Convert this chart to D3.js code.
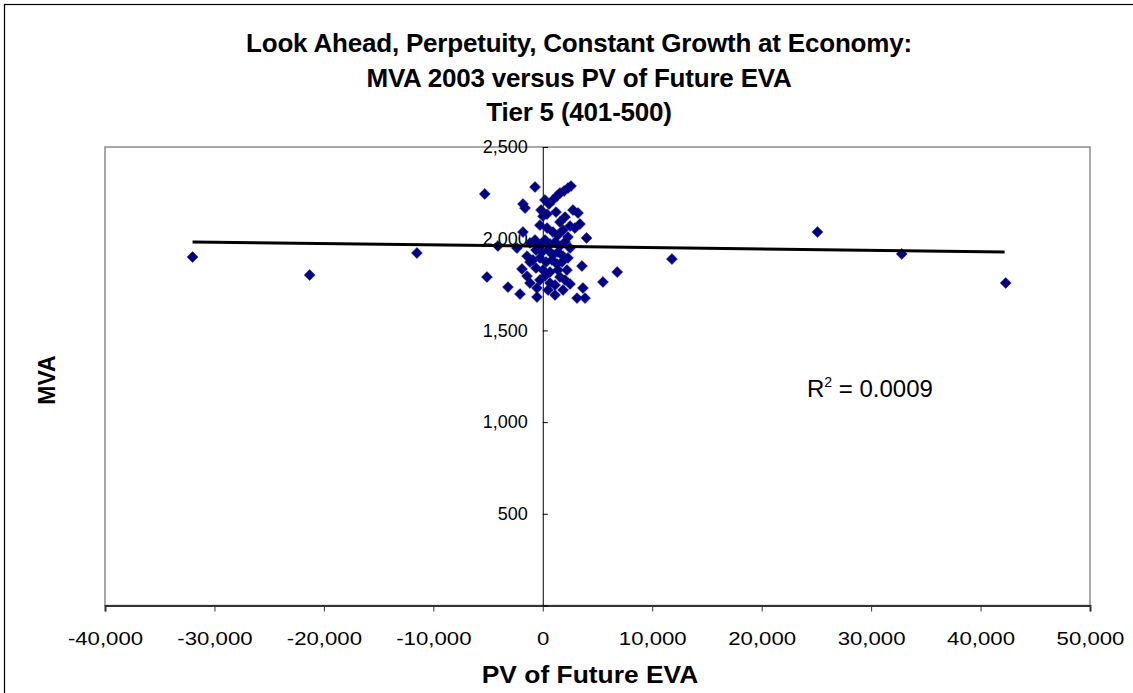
<!DOCTYPE html>
<html>
<head>
<meta charset="utf-8">
<script src="https://cdn.jsdelivr.net/npm/d3@7"></script>
<style>
  body { margin: 0; background: #fff; }
  text { font-family: "Liberation Sans", Arial, sans-serif; }
</style>
</head>
<body>
<script>
const width = 1133;
const height = 693;

// PV of Future EVA (x) and MVA 2003 (y)
const pvEva = [
  -32000, -21300, -11500, -5300, -5100, 25100, 32800, 42300, 11800, 6800, 5500, 4000,
  -710, -1810, -1620, 200, 570, 930, 1300, 1570, 1940, 2300, 2580,
  -160, 20, 390, 2760, 3220, 1210, 1570, 2030, 2490, 2940, 3400,
  -260, 390, 930, 1390, 1850, 2300, -1810, -1170, -2360, -4100,
  -710, -260, 200, 660, 1120, 1570, 2030, 2490,
  -620, -70, 480, 930, 1390, 1850, 2300,
  -1440, -900, -260, 300, 840, 1300, 1760,
  -1900, -1170, -620, 20, 660, 1390, 2210, 3580,
  1570, -260, 660, 200, 1120, 2030, 2490,
  -3180, -2080, -530, -530, 1120, 3130, 3860, 3670, -1170, -1440, 1850, 480
];
const mva = [
  1900, 1802, 1922, 2244, 1791, 2036, 1917, 1759, 1889, 1818, 1764, 2004,
  2282, 2189, 2167, 2211, 2189, 2211, 2233, 2249, 2260, 2276, 2287,
  2156, 2123, 2134, 2156, 2140, 2145, 2091, 2118, 2069, 2058, 2080,
  2074, 2058, 2036, 2020, 2047, 2009, 2036, 1977, 1949, 1960,
  1993, 1966, 1993, 1971, 1982, 1960, 1982, 1949,
  1938, 1927, 1938, 1911, 1927, 1905, 1895,
  1905, 1884, 1895, 1873, 1884, 1862, 1873,
  1835, 1873, 1840, 1829, 1818, 1829, 1829, 1851,
  1791, 1775, 1758, 1796, 1747, 1775, 1753,
  1736, 1698, 1682, 1731, 1693, 1676, 1676, 1731, 1758, 1796, 1720, 1720
];

// linear trend line end points and fit
const trendX = [-32000, 42200];
const trendY = [1982, 1928];
const rSquared = "0.0009";

const xTicks = [-40000, -30000, -20000, -10000, 0, 10000, 20000, 30000, 40000, 50000];
const yTicks = [500, 1000, 1500, 2000, 2500];

const titleLines = [
  "Look Ahead, Perpetuity, Constant Growth at Economy:",
  "MVA 2003 versus PV of Future EVA",
  "Tier 5 (401-500)"
];

const points = pvEva.map((x, i) => ({ x: x, y: mva[i] }));

const plot = { left: 105, right: 1090, top: 147, bottom: 605.5 };

const svg = d3.select('body')
  .append('svg')
  .attr('width', width)
  .attr('height', height);

// outer chart frame
svg.append('rect')
  .attr('x', 4.5).attr('y', 4.5)
  .attr('width', 1150).attr('height', 720)
  .attr('fill', 'white')
  .attr('stroke', 'black')
  .attr('stroke-width', 1.2);

const x = d3.scaleLinear().domain([-40000, 50000]).range([plot.left, plot.right]);
const y = d3.scaleLinear().domain([0, 2500]).range([plot.bottom, plot.top]);
const fmt = d => d3.format(',')(d).replace('\u2212', '-');

// plot area border
svg.append('rect')
  .attr('x', plot.left).attr('y', plot.top)
  .attr('width', plot.right - plot.left)
  .attr('height', plot.bottom - plot.top)
  .attr('fill', 'white')
  .attr('stroke', '#8c8c8c')
  .attr('stroke-width', 1.5);

// titles
svg.append('g').selectAll('text')
  .data(titleLines)
  .enter().append('text')
  .attr('x', 579)
  .attr('y', (d, i) => 52 + i * 34.5)
  .attr('text-anchor', 'middle')
  .style('font-size', '26px')
  .style('font-weight', 'bold')
  .style('letter-spacing', '-0.2px')
  .text(d => d);

// x axis at y = 0
const xAxis = d3.axisBottom(x)
  .tickValues(xTicks)
  .tickSize(6)
  .tickPadding(20)
  .tickFormat(fmt);
const gx = svg.append('g')
  .attr('transform', `translate(0,${y(0)})`)
  .call(xAxis);
gx.select('.domain').attr('stroke', '#333').attr('stroke-width', 2);
gx.selectAll('.tick line').attr('stroke', '#333');
gx.selectAll('text')
  .style('font-size', '18.5px')
  .style('font-family', '"Liberation Sans", Arial, sans-serif')
  .attr('transform', 'scale(1.2,1)')
  .attr('fill', 'black');

// y axis crossing at x = 0
const yAxis = d3.axisLeft(y)
  .tickValues(yTicks)
  .tickSize(-5)
  .tickPadding(15)
  .tickFormat(fmt);
const gy = svg.append('g')
  .attr('transform', `translate(${x(0)},0)`)
  .call(yAxis);
gy.select('.domain').attr('stroke', 'black').attr('stroke-width', 1);
gy.selectAll('.tick line').attr('stroke', 'black');
gy.selectAll('text')
  .style('font-size', '18px')
  .style('font-family', '"Liberation Sans", Arial, sans-serif')
  .attr('fill', 'black');

// markers
const diamond = d3.symbol().type(d3.symbolSquare).size(60);
svg.append('g')
  .selectAll('path')
  .data(points)
  .enter().append('path')
  .attr('d', diamond)
  .attr('transform', d => `translate(${x(d.x)},${y(d.y)}) rotate(45)`)
  .attr('fill', '#000080')
  .attr('stroke', '#1a1a9a')
  .attr('stroke-width', 0.5);

// trend line
svg.append('line')
  .attr('x1', x(trendX[0])).attr('y1', y(trendY[0]))
  .attr('x2', x(trendX[1])).attr('y2', y(trendY[1]))
  .attr('stroke', 'black')
  .attr('stroke-width', 3);

// R squared label
const r2 = svg.append('text')
  .attr('x', 807)
  .attr('y', 397)
  .style('font-size', '24px');
r2.append('tspan').text('R');
r2.append('tspan').attr('dy', -10).style('font-size', '14px').text('2');
r2.append('tspan').attr('dy', 10).text(' = ' + rSquared);

// axis titles
svg.append('text')
  .attr('transform', 'translate(590,683) scale(1.1,1)')
  .attr('text-anchor', 'middle')
  .style('font-size', '24px')
  .style('font-weight', 'bold')
  .text('PV of Future EVA');

svg.append('text')
  .attr('transform', 'translate(55,380) rotate(-90)')
  .attr('text-anchor', 'middle')
  .style('font-size', '23px')
  .style('font-weight', 'bold')
  .text('MVA');
</script>
</body>
</html>
